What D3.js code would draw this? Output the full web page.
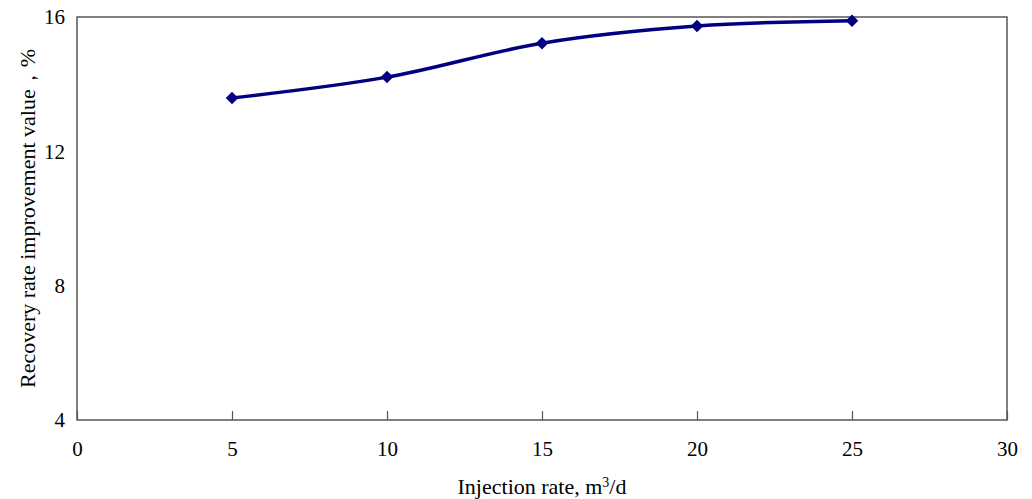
<!DOCTYPE html>
<html>
<head>
<meta charset="utf-8">
<script src="https://cdn.jsdelivr.net/npm/d3@7"></script>
<style>
  body { margin: 0; background: #fff; }
  svg text { font-family: "Liberation Serif", "Times New Roman", serif; fill: #000; }
</style>
</head>
<body>
<div id="chart"></div>
<script>
// Data
const injectionRate = [5, 10, 15, 20, 25];
const recoveryGain = [13.59, 14.21, 15.22, 15.73, 15.89];
const xTicks = [0, 5, 10, 15, 20, 25, 30];
const yTicks = [4, 8, 12, 16];

const W = 1032, H = 499;
const margin = { top: 17, right: 25, bottom: 79, left: 77 };
const width = W - margin.left - margin.right;
const height = H - margin.top - margin.bottom;

const svg = d3.select("#chart")
  .append("svg")
  .attr("width", W)
  .attr("height", H)
  .append("g")
  .attr("transform", `translate(${margin.left}, ${margin.top})`);

const x = d3.scaleLinear().domain([0, 30]).range([0, width]);
const y = d3.scaleLinear().domain([4, 16]).range([height, 0]);

// Plot frame
svg.append("rect")
  .attr("width", width)
  .attr("height", height)
  .attr("fill", "none")
  .attr("stroke", "#555")
  .attr("stroke-width", 1.5);

// x axis, ticks pointing inward
const xAxis = svg.append("g")
  .attr("transform", `translate(0, ${height})`)
  .call(d3.axisBottom(x).tickValues(xTicks).tickSize(-9).tickPadding(21));
xAxis.select(".domain").remove();
xAxis.selectAll("line").attr("stroke", "#555").attr("stroke-width", 1.2);
xAxis.selectAll("text").style("font-size", "21px")
  .attr("font-family", null);

// y axis
const yAxis = svg.append("g")
  .call(d3.axisLeft(y).tickValues(yTicks).tickSize(0).tickPadding(12));
yAxis.select(".domain").remove();
yAxis.selectAll("text").style("font-size", "21px")
  .attr("font-family", null);

// Smoothed line
const line = d3.line()
  .x((d, i) => x(injectionRate[i]))
  .y(d => y(d))
  .curve(d3.curveCatmullRom.alpha(0.5));

svg.append("path")
  .datum(recoveryGain)
  .attr("fill", "none")
  .attr("stroke", "#000080")
  .attr("stroke-width", 3.5)
  .attr("d", line);

// Diamond markers (rotated squares)
svg.selectAll(".pt")
  .data(recoveryGain)
  .enter()
  .append("path")
  .attr("class", "pt")
  .attr("transform", (d, i) => `translate(${x(injectionRate[i])}, ${y(d)}) rotate(45)`)
  .attr("d", d3.symbol().type(d3.symbolSquare).size(78))
  .attr("fill", "#000080");

// Axis titles
svg.append("text")
  .attr("x", width / 2)
  .attr("y", height + 74)
  .attr("text-anchor", "middle")
  .style("font-size", "22px")
  .html("Injection rate, m<tspan dy='-7' font-size='14px'>3</tspan><tspan dy='7'>/d</tspan>");

svg.append("text")
  .attr("transform", "rotate(-90)")
  .attr("x", -height / 2)
  .attr("y", -margin.left + 35)
  .attr("text-anchor", "middle")
  .style("font-size", "22px")
  .text("Recovery rate improvement value，%");
</script>
</body>
</html>
